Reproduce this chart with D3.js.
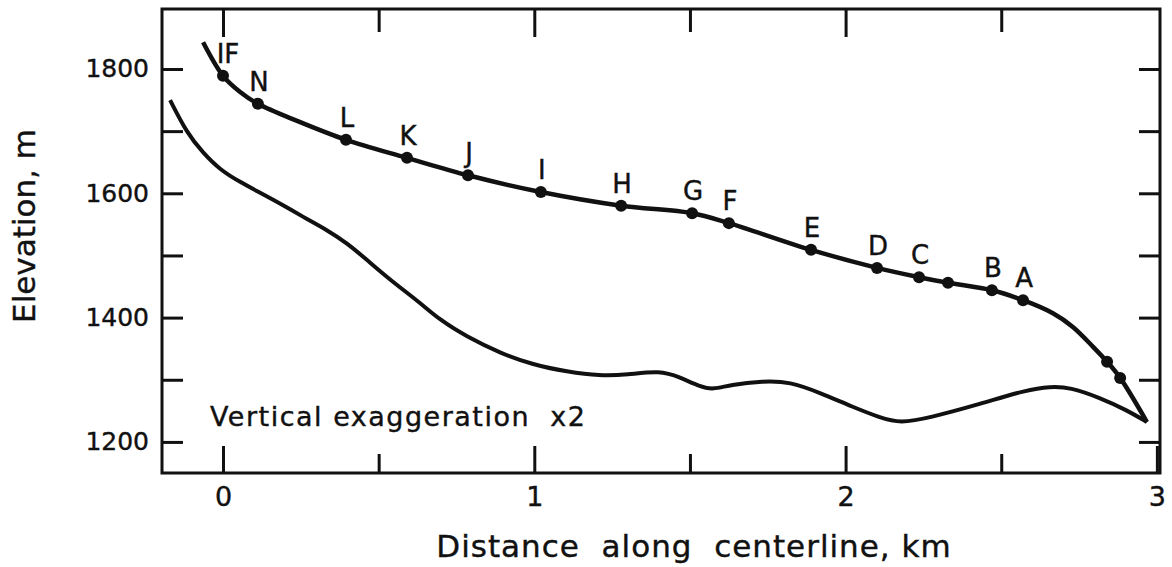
<!DOCTYPE html>
<html>
<head>
<meta charset="utf-8">
<script src="https://cdn.jsdelivr.net/npm/d3@7"></script>
<style>
  body { margin: 0; background: #fff; }
  svg text { font-family: "DejaVu Sans", sans-serif; fill: #111; stroke: #111; stroke-width: 0.4px; }
</style>
</head>
<body>
<svg id="chart" width="1172" height="567"></svg>
<script>
// Longitudinal profile: ice surface with survey stakes, and glacier bed

// survey stakes on the surface (blank = unlabelled dot)
const stakeNames = ['IF', 'N', 'L', 'K', 'J', 'I', 'H', 'G', 'F', 'E', 'D', 'C', '', 'B', 'A', '', ''];
const stakeDist = [0.0, 0.112, 0.395, 0.591, 0.787, 1.021, 1.279, 1.507, 1.625, 1.889, 2.101, 2.236, 2.329, 2.470, 2.570, 2.840, 2.882];
const stakeElev = [1789, 1744, 1686, 1657, 1629, 1602, 1580, 1568, 1552, 1509, 1480, 1465, 1456, 1444, 1428, 1329, 1303];

// extra surface points between stakes (shape of the curve)
const surfaceDist = [-0.064, 0.055, 0.240, 2.666, 2.730, 2.795, 2.968];
const surfaceElev = [1843, 1763, 1716, 1407, 1385, 1353, 1232];

// glacier bed
const bedDist = [-0.170, -0.116, -0.064, -0.010, 0.055, 0.119, 0.193, 0.257, 0.334, 0.398, 0.462, 0.536,
  0.633, 0.697, 0.784, 0.890, 0.996, 1.105, 1.211, 1.298, 1.404, 1.468, 1.532, 1.574, 1.629, 1.735,
  1.821, 1.918, 2.024, 2.111, 2.175, 2.271, 2.432, 2.583, 2.657, 2.721, 2.817, 2.904, 2.968];
const bedElev = [1750, 1697, 1665, 1638, 1618, 1601, 1581, 1562, 1541, 1520, 1493, 1461,
  1424, 1396, 1369, 1343, 1324, 1313, 1306, 1308, 1315, 1304, 1289, 1284, 1292, 1298,
  1297, 1279, 1256, 1239, 1230, 1239, 1261, 1284, 1289, 1288, 1271, 1251, 1232];

const xMajor = [0, 1, 2, 3];
const xMinor = [0.5, 1.5, 2.5];
const yLabelled = [1200, 1400, 1600, 1800];
const yTicksAll = [1200, 1300, 1400, 1500, 1600, 1700, 1800];

const frame = { left: 162, top: 9, right: 1160, bottom: 473 };

const svg = d3.select('#chart');

const x = d3.scaleLinear().domain([-0.196, 3.01]).range([frame.left, frame.right]);
const y = d3.scaleLinear().domain([1150, 1896.5]).range([frame.bottom, frame.top]);

// axes, ticks pointing into the box
function styleAxis(g) {
  g.select('.domain').remove();
  g.selectAll('.tick line').attr('stroke', '#111').attr('stroke-width', 3);
  g.selectAll('.tick text').style('font-family', '"DejaVu Sans", sans-serif').attr('fill', '#111');
}

svg.append('g')
  .attr('transform', `translate(0,${frame.bottom})`)
  .call(d3.axisBottom(x).tickValues(xMajor).tickSize(-27).tickPadding(14).tickFormat(d3.format('d')))
  .call(styleAxis)
  .call(g => g.selectAll('.tick text').style('font-size', '27px'));

svg.append('g')
  .attr('transform', `translate(0,${frame.bottom})`)
  .call(d3.axisBottom(x).tickValues(xMinor).tickSize(-19).tickFormat(''))
  .call(styleAxis);

svg.append('g')
  .attr('transform', `translate(0,${frame.top})`)
  .call(d3.axisTop(x).tickValues(xMajor.slice(0, 3)).tickSize(-28).tickFormat(''))
  .call(styleAxis);

svg.append('g')
  .attr('transform', `translate(0,${frame.top})`)
  .call(d3.axisTop(x).tickValues(xMinor).tickSize(-23).tickFormat(''))
  .call(styleAxis);

svg.append('g')
  .attr('transform', `translate(${frame.left},0)`)
  .call(d3.axisLeft(y).tickValues(yTicksAll).tickSize(-21).tickPadding(13)
    .tickFormat(d => yLabelled.includes(d) ? d : ''))
  .call(styleAxis)
  .call(g => g.selectAll('.tick text').style('font-size', '25px'));

svg.append('g')
  .attr('transform', `translate(${frame.right},0)`)
  .call(d3.axisRight(y).tickValues(yTicksAll).tickSize(-21).tickFormat(''))
  .call(styleAxis);

// frame
svg.append('rect')
  .attr('x', frame.left)
  .attr('y', frame.top)
  .attr('width', frame.right - frame.left)
  .attr('height', frame.bottom - frame.top)
  .attr('fill', 'none')
  .attr('stroke', '#111')
  .attr('stroke-width', 3);

// curves
const surfaceLine = d3.line()
  .x(d => x(d[0]))
  .y(d => y(d[1]))
  .curve(d3.curveCatmullRom.alpha(0.5));

// bed trace is hand-read, so smooth it a little
const bedLine = d3.line()
  .x(d => x(d[0]))
  .y(d => y(d[1]))
  .curve(d3.curveBasis);

const bed = bedDist.map((d, i) => [d, bedElev[i]]);
const stakes = stakeDist.map((d, i) => ({ name: stakeNames[i], dist: d, elev: stakeElev[i] }));
const surface = stakes.map(s => [s.dist, s.elev])
  .concat(surfaceDist.map((d, i) => [d, surfaceElev[i]]))
  .sort((a, b) => a[0] - b[0]);

svg.append('path')
  .datum(bed)
  .attr('d', bedLine)
  .attr('fill', 'none')
  .attr('stroke', '#111')
  .attr('stroke-width', 4);

svg.append('path')
  .datum(surface)
  .attr('d', surfaceLine)
  .attr('fill', 'none')
  .attr('stroke', '#111')
  .attr('stroke-width', 4.5)
  .attr('stroke-linejoin', 'round');

svg.append('g')
  .selectAll('circle')
  .data(stakes)
  .enter().append('circle')
  .attr('cx', d => x(d.dist))
  .attr('cy', d => y(d.elev))
  .attr('r', 6)
  .attr('fill', '#111');

svg.append('g')
  .selectAll('text')
  .data(stakes.filter(s => s.name))
  .enter().append('text')
  .attr('x', d => x(d.dist) + (d.name === 'IF' ? 5 : 1))
  .attr('y', d => y(d.elev) - 13)
  .attr('text-anchor', 'middle')
  .style('font-size', '26px')
  .text(d => d.name);

// annotation and axis titles
svg.append('text')
  .attr('x', 210)
  .attr('y', 426)
  .style('font-size', '27px')
  .style('letter-spacing', '1.5px')
  .style('white-space', 'pre')
  .text('Vertical exaggeration  x2');

svg.append('text')
  .attr('x', (438 + 950) / 2)
  .attr('y', 557)
  .attr('text-anchor', 'middle')
  .style('font-size', '31px')
  .style('letter-spacing', '1px')
  .style('white-space', 'pre')
  .text('Distance  along  centerline, km');

svg.append('text')
  .attr('transform', 'translate(35,226) rotate(-90)')
  .attr('text-anchor', 'middle')
  .style('font-size', '31px')
  .text('Elevation, m');
</script>
</body>
</html>
